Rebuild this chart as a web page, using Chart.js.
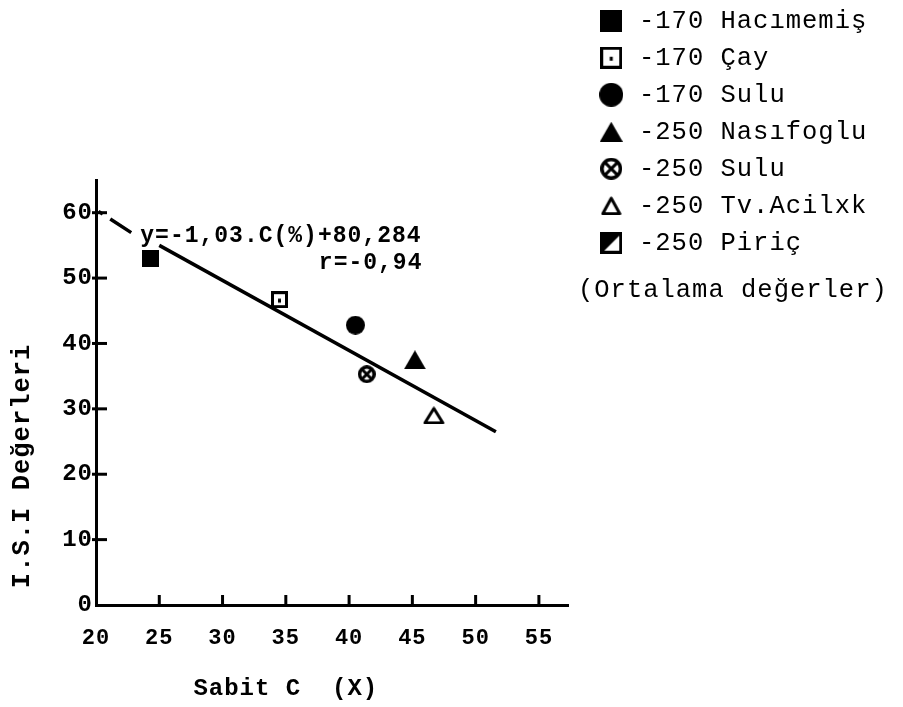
<!DOCTYPE html>
<html><head><meta charset="utf-8">
<script src="https://cdn.jsdelivr.net/npm/chart.js@4.4.0/dist/chart.umd.min.js"></script>
<style>html,body{margin:0;padding:0;background:#fff;}canvas{display:block;}</style>
</head><body>
<canvas id="c" width="903" height="707" style="width:903px;height:707px"></canvas>
<script>
// ---- data ----
const seriesLabels = ['-170 Hacımemiş', '-170 Çay', '-170 Sulu', '-250 Nasıfoglu', '-250 Sulu', '-250 Tv.Acilxk', '-250 Piriç'];
const cValues   = [24.3, 34.5, 40.5, 45.2, 41.4, 46.7, null];   // Sabit C (X)
const isiValues = [53.0, 46.7, 42.8, 37.5, 35.3, 29.0, null];   // I.S.I Değerleri
const fitX = [25.0, 51.6];
const fitY = [55.0, 26.5];
const fitDashX = [20.2, 22.9];
const fitDashY = [60.2, 56.8];
const xTicks = [20, 25, 30, 35, 40, 45, 50, 55];
const yTicks = [0, 10, 20, 30, 40, 50, 60];
const equationText = 'y=-1,03.C(%)+80,284';
const rText = 'r=-0,94';
const noteText = '(Ortalama değerler)';
const xTitle = 'Sabit C  (X)';
const yTitle = 'I.S.I Değerleri';

// ---- marker images ----
function mk(w, h, fn) {
  const c = document.createElement('canvas');
  c.width = w; c.height = h;
  const g = c.getContext('2d');
  g.fillStyle = '#000'; g.strokeStyle = '#000';
  fn(g, w, h);
  return c;
}
const S = {
  fsq: (s) => mk(s, s, g => { g.fillRect(0, 0, s, s); }),
  dsq: (s) => mk(s, s, g => { g.lineWidth = 3; g.strokeRect(1.5, 1.5, s - 3, s - 3); g.fillRect(s / 2 - 1.5, s / 2 - 1, 3, 4); }),
  fci: (s) => mk(s, s, g => { g.beginPath(); g.arc(s / 2, s / 2, s / 2, 0, 2 * Math.PI); g.fill(); }),
  ftr: (w, h) => mk(w, h, g => { g.beginPath(); g.moveTo(w / 2, 0); g.lineTo(w, h); g.lineTo(0, h); g.closePath(); g.fill(); }),
  xci: (s) => mk(s, s, g => {
    const r = s / 2;
    g.lineWidth = 3.5; g.beginPath(); g.arc(r, r, r - 1.75, 0, 2 * Math.PI); g.stroke();
    g.lineWidth = 3; const d = (r - 2) * 0.7071;
    g.beginPath(); g.moveTo(r - d, r - d); g.lineTo(r + d, r + d); g.moveTo(r + d, r - d); g.lineTo(r - d, r + d); g.stroke();
  }),
  otr: (w, h) => mk(w, h, g => { g.lineWidth = 3; g.lineJoin = 'round'; g.beginPath(); g.moveTo(w / 2, 2); g.lineTo(w - 2, h - 1.5); g.lineTo(2, h - 1.5); g.closePath(); g.stroke(); }),
  hsq: (s) => mk(s, s, g => { g.fillRect(0, 0, s, s); g.fillStyle = '#fff'; g.beginPath(); g.moveTo(s - 3, 4); g.lineTo(s - 3, s - 3); g.lineTo(4, s - 3); g.closePath(); g.fill(); })
};
const plotSyms = [S.fsq(17), S.dsq(17), S.fci(19), S.ftr(22, 19), S.xci(18), S.otr(22, 18), S.hsq(17)];
const legendSyms = [S.fsq(22), S.dsq(22), S.fci(24), S.ftr(23, 20), S.xci(22), S.otr(21, 19), S.hsq(22)];

const LS = '1px';
const setLS = (chart) => { try { chart.ctx.letterSpacing = LS; } catch (e) {} };

const customPlugin = {
  id: 'custom',
  beforeUpdate: setLS, beforeLayout: setLS, beforeDraw: setLS, beforeDatasetsDraw: setLS,
  afterLayout(chart) {
    const lg = chart.legend;
    if (lg) {
      lg.left = 584.75; lg.top = -3.5; lg.right = 903; lg.bottom = 707;
      lg.width = lg.right - lg.left; lg.height = lg.bottom - lg.top;
    }
  },
  afterDraw(chart) {
    const { ctx, scales: { x, y } } = chart;
    ctx.save();
    ctx.letterSpacing = LS;
    ctx.fillStyle = '#000'; ctx.strokeStyle = '#000';
    ctx.lineWidth = 3;
    y.ticks.forEach(t => {
      if (t.value === y.min) return;
      const py = y.getPixelForValue(t.value);
      ctx.beginPath(); ctx.moveTo(x.left - 4, py); ctx.lineTo(x.left + 11, py); ctx.stroke();
    });
    x.ticks.forEach(t => {
      if (t.value === x.min) return;
      const px = x.getPixelForValue(t.value);
      ctx.beginPath(); ctx.moveTo(px, y.bottom); ctx.lineTo(px, y.bottom - 10); ctx.stroke();
    });
    ctx.font = 'bold 23px "Liberation Mono"';
    ctx.textBaseline = 'middle';
    ctx.textAlign = 'left';
    ctx.fillText(equationText, x.getPixelForValue(23.5), y.getPixelForValue(56.35));
    ctx.textAlign = 'right';
    ctx.fillText(rText, x.getPixelForValue(45.8), y.getPixelForValue(52.3));
    ctx.font = '25.5px "Liberation Mono"';
    ctx.textAlign = 'left';
    ctx.fillText(noteText, 578, 290);
    ctx.restore();
  }
};

Chart.defaults.font.family = '"Liberation Mono", monospace';
Chart.defaults.color = '#000';

const datasets = seriesLabels.map((lab, i) => ({
  label: lab,
  data: cValues[i] == null ? [] : [{ x: cValues[i], y: isiValues[i] }],
  pointStyle: plotSyms[i],
  backgroundColor: '#000',
  borderColor: '#000',
  pointRadius: 10,
  pointHoverRadius: 10,
  order: 0
}));
datasets.push({
  label: 'fit',
  data: fitX.map((v, i) => ({ x: v, y: fitY[i] })),
  showLine: true, pointRadius: 0, borderColor: '#000', borderWidth: 3.5, fill: false, order: 1
});
datasets.push({
  label: 'fitDash',
  data: fitDashX.map((v, i) => ({ x: v, y: fitDashY[i] })),
  showLine: true, pointRadius: 0, borderColor: '#000', borderWidth: 3.5, borderDash: [5, 9, 25], fill: false, order: 1
});

new Chart(document.getElementById('c'), {
  type: 'scatter',
  data: { datasets },
  plugins: [customPlugin],
  options: {
    responsive: false,
    animation: false,
    events: [],
    layout: { padding: { top: 180, left: 0, right: 325, bottom: 0 } },
    plugins: {
      tooltip: { enabled: false },
      legend: {
        display: true,
        position: 'right',
        align: 'start',
        maxWidth: 10,
        labels: {
          usePointStyle: true,
          pointStyleWidth: 30,
          padding: 11.5,
          color: '#000',
          font: { family: '"Liberation Mono"', size: 25.5 },
          generateLabels: () => seriesLabels.map((t, i) => ({
            text: t, pointStyle: legendSyms[i], fillStyle: '#000', strokeStyle: '#000',
            lineWidth: 0, hidden: false, datasetIndex: i, fontColor: '#000'
          }))
        }
      }
    },
    scales: {
      x: {
        type: 'linear', position: 'bottom', min: 20, max: 57.3,
        afterBuildTicks: (s) => { s.ticks = xTicks.map(v => ({ value: v })); },
        ticks: { font: { family: '"Liberation Mono"', size: 22, weight: 'bold' }, color: '#000', padding: 19.8, maxRotation: 0, autoSkip: false, includeBounds: false },
        grid: { display: false, drawTicks: false },
        border: { display: true, color: '#000', width: 3 },
        title: { display: true, text: xTitle + '      ', color: '#000', font: { family: '"Liberation Mono"', size: 24, weight: 'bold', lineHeight: 1.2 }, padding: { top: 3.6, bottom: 3.6 } }
      },
      y: {
        type: 'linear', position: 'left', min: 0, max: 65,
        afterBuildTicks: (s) => { s.ticks = yTicks.map(v => ({ value: v })); },
        ticks: { font: { family: '"Liberation Mono"', size: 24, weight: 'bold' }, color: '#000', padding: 3, autoSkip: false, includeBounds: false },
        grid: { display: false, drawTicks: false },
        border: { display: true, color: '#000', width: 3 },
        title: { display: true, text: yTitle + '         ', color: '#000', font: { family: '"Liberation Mono"', size: 25.5, weight: 'bold', lineHeight: 1.2 }, padding: { top: 7.7, bottom: 20.9 } }
      }
    }
  }
});
</script>
</body></html>
